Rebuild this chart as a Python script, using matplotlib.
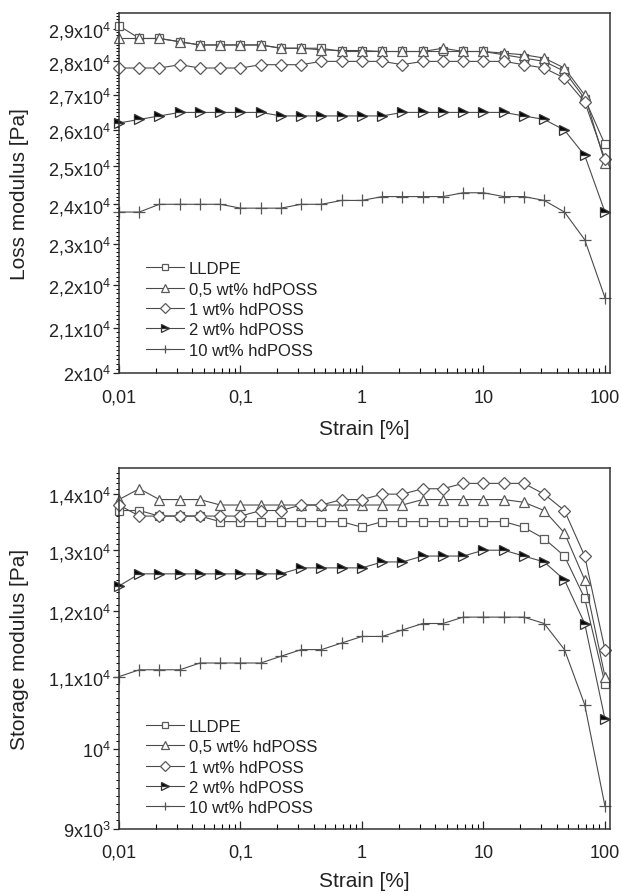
import matplotlib
matplotlib.use('Agg')
import matplotlib.pyplot as plt
from matplotlib.ticker import LogLocator, NullFormatter

plt.rcParams['font.family'] = ['Liberation Sans', 'DejaVu Sans']
plt.rcParams['mathtext.fontset'] = 'custom'
plt.rcParams['mathtext.rm'] = 'Liberation Sans'
plt.rcParams['mathtext.it'] = 'Liberation Sans:italic'
plt.rcParams['mathtext.bf'] = 'Liberation Sans:bold'

# ---------------- data ----------------
strain = [0.01, 0.0147, 0.0215, 0.0316, 0.0464, 0.0681, 0.1, 0.147, 0.215, 0.316,
          0.464, 0.681, 1, 1.47, 2.15, 3.16, 4.64, 6.81, 10, 14.7, 21.5, 31.6,
          46.4, 68.1, 100]

series_names = ['LLDPE', '0,5 wt% hdPOSS', '1 wt% hdPOSS', '2 wt% hdPOSS', '10 wt% hdPOSS']

loss_lldpe = [29100, 28700, 28700, 28600, 28500, 28500, 28500, 28500, 28400, 28400,
              28400, 28300, 28300, 28300, 28300, 28300, 28300, 28300, 28300, 28200,
              28100, 28000, 27700, 26900, 25600]
loss_05 = [28700, 28700, 28700, 28600, 28500, 28500, 28500, 28500, 28400, 28400,
           28350, 28330, 28330, 28300, 28300, 28300, 28400, 28300, 28300, 28250,
           28200, 28100, 27800, 27000, 25100]
loss_1 = [27800, 27800, 27800, 27900, 27800, 27800, 27800, 27900, 27900, 27900,
          28000, 28000, 28000, 28000, 27900, 28000, 28000, 28000, 28000, 28000,
          27900, 27800, 27500, 26800, 25200]
loss_2 = [26200, 26300, 26400, 26500, 26500, 26500, 26500, 26500, 26400, 26400,
          26400, 26400, 26400, 26400, 26500, 26500, 26500, 26500, 26500, 26500,
          26400, 26300, 26000, 25300, 23800]
loss_10 = [23800, 23800, 24000, 24000, 24000, 24000, 23900, 23900, 23900, 24000,
           24000, 24100, 24100, 24200, 24200, 24200, 24200, 24300, 24300, 24200,
           24200, 24100, 23800, 23100, 21700]

stor_lldpe = [13700, 13700, 13600, 13600, 13600, 13500, 13500, 13500, 13500, 13500,
              13500, 13500, 13400, 13500, 13500, 13500, 13500, 13500, 13500, 13500,
              13400, 13200, 12900, 12200, 10900]
stor_05 = [13900, 14100, 13900, 13900, 13900, 13800, 13800, 13800, 13800, 13800,
           13800, 13800, 13800, 13800, 13800, 13900, 13900, 13900, 13900, 13900,
           13850, 13700, 13300, 12500, 11000]
stor_1 = [13800, 13600, 13600, 13600, 13600, 13600, 13600, 13700, 13700, 13800,
          13800, 13900, 13900, 14000, 14000, 14100, 14100, 14200, 14200, 14200,
          14200, 14000, 13700, 12900, 11400]
stor_2 = [12400, 12600, 12600, 12600, 12600, 12600, 12600, 12600, 12600, 12700,
          12700, 12700, 12700, 12800, 12800, 12900, 12900, 12900, 13000, 13000,
          12900, 12800, 12500, 11800, 10400]
stor_10 = [11000, 11100, 11100, 11100, 11200, 11200, 11200, 11200, 11300, 11400,
           11400, 11500, 11600, 11600, 11700, 11800, 11800, 11900, 11900, 11900,
           11900, 11800, 11400, 10600, 9270]

x_ticks = [0.01, 0.1, 1, 10, 100]
x_ticklabels = ['0,01', '0,1', '1', '10', '100']

loss_yticks = [20000, 21000, 22000, 23000, 24000, 25000, 26000, 27000, 28000, 29000]
loss_yticklabels = ['2x10$^4$', '2,1x10$^4$', '2,2x10$^4$', '2,3x10$^4$', '2,4x10$^4$',
                    '2,5x10$^4$', '2,6x10$^4$', '2,7x10$^4$', '2,8x10$^4$', '2,9x10$^4$']
stor_yticks = [9000, 10000, 11000, 12000, 13000, 14000]
stor_yticklabels = ['9x10$^3$', '10$^4$', '1,1x10$^4$', '1,2x10$^4$', '1,3x10$^4$', '1,4x10$^4$']

# ---------------- styles ----------------
line_col = '#4a4a4a'
edge_col = '#5a5a5a'
styles = [
    dict(marker='s', ms=5.5, mfc='white', mec=edge_col),
    dict(marker='^', ms=7, mfc='white', mec=edge_col),
    dict(marker='D', ms=6, mfc='white', mec=edge_col),
    dict(marker='>', ms=7, mfc='black', mfcalt='white', fillstyle='top', mec='#333333'),
    dict(marker='+', ms=8, mec='#555555'),
]

fig = plt.figure(figsize=(6.21, 8.95), dpi=100)
W, H = 621, 895
ax1 = fig.add_axes([119 / W, 1 - 374.3 / H, 491 / W, 360.3 / H])
ax2 = fig.add_axes([119 / W, 1 - 829.5 / H, 491 / W, 360.2 / H])


def style_axes(ax, yticks, yticklabels, ylim, ylabel, minor_step, leg_top, xlab_y):
    ax.set_xscale('log')
    ax.set_yscale('log')
    ax.set_xlim(0.01, 110)
    ax.set_ylim(*ylim)
    ax.set_xticks(x_ticks, x_ticklabels)
    ax.xaxis.set_minor_locator(LogLocator(base=10, subs=[2, 3, 4, 5, 6, 7, 8, 9], numticks=20))
    ax.xaxis.set_minor_formatter(NullFormatter())
    ax.set_yticks(yticks, yticklabels)
    minors = []
    v = ylim[0]
    while v <= ylim[1]:
        if all(abs(v - t) > 1 for t in yticks):
            minors.append(v)
        v += minor_step
    ax.set_yticks(minors, minor=True)
    ax.yaxis.set_minor_formatter(NullFormatter())
    ax.tick_params(axis='x', which='major', direction='in', length=6, width=0.9,
                   pad=11, labelsize=13, colors='#222222')
    ax.tick_params(axis='x', which='minor', direction='in', length=3.5, width=0.8)
    ax.tick_params(axis='y', which='major', direction='out', length=4, width=0.9,
                   pad=2, labelsize=13, colors='#222222')
    ax.tick_params(axis='y', which='minor', direction='out', length=2.2, width=0.7)
    ax.tick_params(top=False, right=False, which='both')
    for sp in ax.spines.values():
        sp.set_linewidth(1.1)
        sp.set_color('#333333')
    ax.set_xlabel('Strain [%]', fontsize=15, color='#222222')
    ax.xaxis.set_label_coords(0.5, xlab_y)
    ax.set_ylabel(ylabel, fontsize=15, color='#222222')
    ax.yaxis.set_label_coords(-0.183, 0.5)
    leg = ax.legend(loc='upper left', bbox_to_anchor=(0.055, leg_top), frameon=False,
                    fontsize=12, handlelength=2.3, handletextpad=0.25, labelspacing=0.32,
                    borderpad=0, borderaxespad=0, markerscale=0.8)
    for t in leg.get_texts():
        t.set_color('#222222')


for data, name, st in zip([loss_lldpe, loss_05, loss_1, loss_2, loss_10], series_names, styles):
    ax1.plot(strain, data, color=line_col, lw=0.8, mew=0.9, label=name, clip_on=False, **st)
for data, name, st in zip([stor_lldpe, stor_05, stor_1, stor_2, stor_10], series_names, styles):
    ax2.plot(strain, data, color=line_col, lw=0.8, mew=0.9, label=name, clip_on=False, **st)

style_axes(ax1, loss_yticks, loss_yticklabels, (20000, 29500), 'Loss modulus [Pa]', 100, 0.311, -0.128)
style_axes(ax2, stor_yticks, stor_yticklabels, (9000, 14486), 'Storage modulus [Pa]', 100, 0.304, -0.118)

fig.savefig('out.png', dpi=100)
